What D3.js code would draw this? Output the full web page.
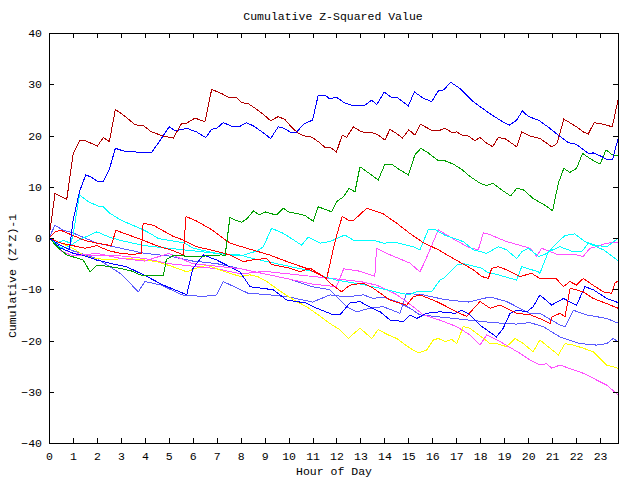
<!DOCTYPE html>
<html><head><meta charset="utf-8">
<script src="https://cdn.jsdelivr.net/npm/d3@7"></script>
<style>
html,body{margin:0;padding:0;background:#fff;}
text{font-family:"Liberation Mono","DejaVu Sans Mono",monospace;font-size:11.5px;fill:#000;}
</style></head>
<body>
<svg id="chart" width="640" height="480"></svg>
<script>
// ---- data: [hour, cumulative value] vertices ----
const xTicks = d3.range(0, 24);
const yTicks = [-40, -30, -20, -10, 0, 10, 20, 30, 40];

const darkRed = [[0,0],[0.25,8.7],[0.74,7.5],[1.01,16.5],[1.29,19.0],[1.5,19],[2.02,17.95],[2.27,19.6],[2.52,18.8],[2.77,25.1],[3.24,23.5],[3.59,22.1],[3.94,21.9],[4.28,20.7],[4.77,19.9],[5.19,19.5],[5.54,22.4],[5.75,22.4],[6.09,23.4],[6.51,22.7],[6.79,29.0],[7.2,28.2],[7.55,27.3],[7.8,27.5],[8.04,26.4],[8.32,26.2],[8.67,25.1],[8.95,24.1],[9.25,22.9],[9.57,23.7],[9.85,23.1],[10.13,21.6],[10.41,20.4],[10.68,19.9],[10.96,19.7],[11.24,18.8],[11.52,17.7],[11.73,17.7],[12.0,16.8],[12.24,20.1],[12.42,19.6],[12.7,21.7],[13.05,20.7],[13.53,20.5],[13.74,20.1],[14.02,19.1],[14.23,21.2],[14.51,20.4],[14.75,19.5],[15.02,21.1],[15.27,20.1],[15.51,22.2],[16.01,20.9],[16.25,20.9],[16.53,21.4],[16.81,20.6],[17.02,20.7],[17.23,20.1],[17.5,19.9],[17.78,19.0],[17.99,19.6],[18.24,18.6],[18.52,17.8],[18.75,19.6],[19.03,19.4],[19.52,17.8],[19.73,20.7],[20.08,19.9],[20.5,19.4],[20.98,17.8],[21.2,18.4],[21.49,23.2],[22.02,21.7],[22.3,20.7],[22.51,20.3],[22.75,22.5],[23.13,22.2],[23.51,21.7],[23.75,26.9]];

const blueTop = [[0,0],[0.5,-1.5],[0.85,-2.3],[1.01,3.5],[1.27,9.0],[1.53,12.3],[1.71,12.0],[2.02,11.1],[2.27,11.1],[2.52,13.4],[2.77,17.5],[3.1,17.0],[3.45,16.8],[4.28,16.7],[4.56,18.5],[5.02,21.7],[5.26,20.9],[5.75,21.4],[6.16,20.7],[6.54,19.6],[6.79,21.2],[7.0,21.4],[7.27,22.5],[7.69,21.7],[7.97,21.8],[8.25,22.5],[8.56,21.8],[8.95,20.5],[9.25,19.4],[9.57,21.7],[9.81,21.4],[10.13,20.5],[10.31,20.5],[10.62,22.2],[11.0,23.0],[11.24,27.9],[11.52,27.9],[11.73,27.1],[11.98,27.5],[12.36,26.3],[12.63,25.9],[13.19,25.9],[13.47,26.9],[13.68,26.0],[13.99,28.5],[14.28,27.5],[14.51,27.5],[15.0,25.8],[15.25,28.5],[15.62,27.3],[15.97,26.6],[16.25,28.7],[16.48,28.9],[16.76,30.4],[17.15,29.2],[17.71,26.6],[18.27,24.7],[18.82,23.0],[19.21,22.0],[19.52,23.0],[19.76,24.8],[20.01,23.7],[20.43,23.0],[20.85,21.6],[21.33,19.8],[21.68,18.6],[22.0,18.3],[22.51,16.5],[22.72,16.6],[23.07,15.9],[23.28,15.3],[23.52,15.3],[23.75,19.3]];

const green = [[0,0],[0.4,-2],[0.74,-3.3],[1.43,-4.3],[1.71,-6.6],[1.99,-5.3],[2.4,-5.5],[2.96,-5.9],[3.5,-6.5],[3.8,-7.2],[4.22,-7.4],[4.77,-7.4],[4.9,-4.2],[5.2,-3.4],[6.0,-3.6],[6.6,-3.5],[7.2,-3.3],[7.35,-3.5],[7.55,4.0],[7.76,3.5],[8.04,3.1],[8.25,3.7],[8.53,5.3],[8.78,4.5],[9.02,5.1],[9.22,4.8],[9.5,4.5],[9.78,5.8],[10.03,5.0],[10.34,4.8],[10.68,4.4],[11.03,3.3],[11.24,6.1],[11.52,5.6],[11.8,5.1],[12.0,7.1],[12.28,8.0],[12.53,9.7],[12.77,9.0],[12.98,13.9],[13.4,12.5],[13.74,11.3],[14.02,14.4],[14.3,14.4],[14.58,13.5],[15.0,12.3],[15.27,16.2],[15.52,17.5],[15.83,16.6],[16.25,15.1],[16.46,15.2],[16.88,14.4],[17.23,13.4],[17.57,12.0],[17.99,10.7],[18.27,10.2],[18.52,10.7],[18.89,9.4],[19.27,8.2],[19.52,9.7],[19.8,9.4],[20.21,7.7],[20.7,6.4],[21.02,5.3],[21.26,10.7],[21.49,13.6],[21.74,12.8],[22.02,13.6],[22.27,16.5],[22.58,15.5],[23.0,14.4],[23.25,17.2],[23.52,16.2],[23.75,16.0]];

const red1 = [[0,0],[0.25,1.2],[0.5,1.5],[1.0,0.5],[1.5,-0.5],[2.0,-1.0],[2.6,-1.5],[2.79,1.5],[3.2,0.8],[3.8,-0.2],[4.5,-1.5],[5.2,-2.5],[5.6,-3.3],[5.72,4.2],[6.16,3.3],[6.8,1.6],[7.55,-1.0],[8.4,-2.2],[9.2,-3.3],[10.1,-4.9],[10.8,-6.0],[11.59,-7.9],[11.86,-2.3],[12.03,0.9],[12.24,4.2],[12.49,3.5],[12.73,3.5],[13.26,5.8],[13.53,5.4],[13.95,4.7],[14.51,2.9],[15.06,0.9],[15.62,-0.9],[16.25,-2.3],[16.88,-4.0],[17.71,-6.2],[18.06,-7.5],[18.34,-7.9],[18.48,-5.9],[18.75,-5.6],[19.1,-6.2],[19.66,-7.5],[20.15,-6.9],[20.49,-7.9],[21.19,-8.0],[21.47,-9.5],[21.74,-8.5],[22.02,-9.2],[22.3,-7.9],[22.58,-8.8],[23.13,-10.5],[23.48,-10.8],[23.62,-8.8],[23.75,-8.4]];

const red2 = [[0,0],[0.5,-1],[1.0,-1.5],[1.5,-2.0],[2.0,-1.5],[2.5,-2.5],[3.0,-3.0],[3.5,-3.2],[3.85,-3.0],[3.93,2.9],[4.35,2.5],[5.19,0.3],[5.61,-0.4],[6.16,-1.7],[7.0,-2.6],[7.55,-3.3],[8.11,-4.6],[8.6,-4.2],[9.09,-4.0],[9.3,-5.2],[10.06,-5.9],[10.48,-6.6],[10.9,-5.9],[11.45,-7.5],[11.73,-8.8],[12.21,-10.5],[12.56,-9.2],[13.12,-8.8],[13.53,-9.8],[14.23,-12.1],[14.93,-13.1],[15.2,-11.5],[15.48,-11.1],[16.18,-12.4],[17.15,-14.7],[17.43,-15.3],[17.99,-12.4],[18.41,-13.7],[18.82,-13.1],[19.52,-14.7],[20.1,-15],[20.63,-16.0],[20.91,-16.7],[21.0,-15.4],[21.33,-14.7],[21.54,-15.4],[21.75,-9.8],[22.3,-10.5],[22.72,-11.8],[23.28,-12.8],[23.75,-13.7]];

const cyan1 = [[0,0],[0.3,-1],[0.6,-0.5],[0.9,-1.0],[1.0,0.5],[1.27,8.4],[1.64,7.1],[2.06,6.2],[2.27,6.1],[2.55,4.8],[2.96,3.6],[3.38,2.7],[3.8,1.9],[4.22,0.9],[4.56,-0.1],[5.19,-0.6],[5.61,-0.9],[6.03,-2.0],[6.3,-2.3],[7.0,-3.0],[7.97,-3.3],[8.5,-4.0],[9.0,-4.5],[10,-5.5],[11,-6.5],[11.45,-7.5],[12,-8.2],[13,-9],[14,-10],[15.0,-11.1],[15.35,-10.5],[15.97,-10.5],[16.32,-8.2],[16.46,-7.9],[17.02,-5.3],[17.29,-5.0],[18.06,-5.9],[18.27,-6.6],[18.75,-7.2],[19.52,-8.2],[19.73,-5.6],[20.43,-6.6],[20.49,-6.9],[20.84,-2.7],[21.33,-1.7],[21.89,-2.7],[22.23,-2.7],[22.51,-1.0],[23.14,-2.3],[23.75,-4.4]];

const cyan2 = [[0,0],[0.3,-1.5],[0.6,-2.0],[0.9,-1.5],[1.2,-0.5],[2.0,1.2],[2.5,0.2],[3,-0.5],[4,-1.5],[5,-2.0],[6,-2.5],[7,-3.0],[8,-3.5],[8.7,-2.5],[8.95,-1.7],[9.29,1.9],[9.78,0.9],[10.55,-1.4],[10.82,0.2],[11.31,-1.0],[11.73,-0.7],[12.35,0.6],[12.7,-0.4],[13.53,-0.4],[13.95,-1.0],[14.5,-0.9],[15.2,-1.7],[15.48,-2.3],[15.83,1.6],[16.1,1.7],[16.5,0.6],[17.29,-0.7],[17.71,-2.3],[18.27,-3.0],[18.75,-1.7],[19.1,-2.3],[19.52,-4.0],[19.73,-2.7],[20.01,-2.0],[20.43,-3.6],[20.8,-3.0],[21.19,-1.0],[21.54,0.5],[21.95,0.8],[22.37,-0.7],[22.79,-1.4],[23.28,-1.7],[23.75,-0.1]];

const magenta1 = [[0,0],[0.5,-2],[1,-3],[2,-3.5],[3,-3.5],[4,-4],[5,-5],[6,-5.5],[7,-6],[8,-7],[9,-6.5],[10,-7],[11,-7.5],[12,-8],[13,-8.5],[13.68,-9.2],[14.5,-11],[15.2,-13.4],[15.62,-15.0],[16.3,-16],[17.02,-17.3],[17.57,-18.9],[17.99,-20.9],[18.27,-18.9],[18.82,-20.2],[19.66,-22.5],[20.07,-23.8],[20.49,-24.8],[20.77,-24.5],[20.98,-25.4],[21.33,-24.8],[22.3,-26.4],[23.28,-28.7],[23.75,-30.6]];

const magenta2 = [[0,0],[0.5,-2.5],[1,-3.5],[2,-3.0],[3,-4],[4,-4.5],[5,-3],[6,-5],[7,-5.5],[8,-6],[9,-7],[10,-8],[11,-9],[12,-9.5],[12.3,-6],[13,-6.5],[13.6,-7.5],[13.67,-2.0],[14.09,-3.0],[15.07,-4.9],[15.48,-6.6],[15.69,-4.6],[16.25,1.6],[16.81,0.0],[17.5,-1.8],[17.92,-2.3],[18.13,1.0],[18.27,0.9],[19.1,-0.7],[20.08,-2.0],[20.36,-3.6],[20.56,-2.0],[21.12,-3.0],[21.26,-3.3],[22.02,-3.3],[22.3,-3.6],[22.58,-2.0],[22.86,-1.7],[23.28,-1.0],[23.75,-0.9]];

const yellow = [[0,0],[0.5,-1],[1,-2],[1.43,-3.3],[1.85,-4.0],[2.5,-4.2],[3.24,-4.0],[4.0,-4.3],[4.49,-4.6],[5.1,-5.5],[5.75,-6.6],[6.2,-5.8],[6.58,-5.3],[7.3,-6.5],[7.97,-7.5],[8.39,-7.2],[8.7,-7.5],[9.09,-8.5],[9.78,-10.8],[10.34,-12.4],[10.75,-13.4],[11.45,-15.7],[11.73,-16.7],[12.14,-17.9],[12.49,-19.6],[12.98,-17.6],[13.47,-19.6],[13.74,-17.9],[14.16,-18.9],[14.51,-19.6],[15.07,-21.5],[15.41,-22.4],[15.76,-21.9],[16.04,-19.9],[16.25,-19.6],[16.53,-20.2],[16.81,-19.8],[17.02,-20.6],[17.29,-17.3],[17.57,-17.6],[18.13,-19.6],[18.41,-20.6],[18.68,-20.6],[19.1,-21.2],[19.45,-19.6],[19.8,-20.6],[20.21,-22.2],[20.49,-19.9],[20.91,-21.5],[21.26,-22.8],[21.54,-20.6],[21.89,-20.9],[22.3,-21.5],[22.72,-22.2],[23.28,-24.8],[23.75,-25.4]];

const blue2 = [[0,0],[0.5,-2],[1.02,-3.0],[1.5,-3.5],[1.99,-4.3],[2.6,-5],[3.24,-5.6],[4.08,-7.5],[4.77,-9.2],[5.2,-10],[5.61,-10.8],[5.75,-11.1],[6.0,-6],[6.44,-3.3],[7.0,-4.3],[7.5,-5.5],[7.97,-6.6],[8.39,-9.5],[9.36,-10.1],[9.92,-12.1],[10.75,-12.7],[11.17,-13.7],[11.87,-15.0],[12.14,-15.0],[12.56,-12.7],[12.98,-12.4],[13.4,-13.5],[13.82,-14.4],[14.23,-16.0],[14.79,-16.3],[15.07,-15.0],[15.35,-15.7],[15.76,-14.7],[16.32,-14.4],[16.95,-14.7],[17.23,-14.1],[17.57,-15.0],[17.99,-17.0],[18.68,-19.3],[18.96,-17.6],[19.24,-14.7],[19.52,-14.1],[19.94,-14.4],[20.21,-13.4],[20.49,-11.1],[20.98,-13.1],[21.47,-11.8],[22.02,-13.1],[22.37,-9.5],[22.72,-10.1],[23.28,-11.8],[23.75,-12.6]];

const lightBlue1 = [[0,0],[0.25,2.5],[0.6,1.5],[1.0,1.0],[1.5,0],[2.0,-1],[2.5,-1.5],[3,-2],[3.5,-2.5],[4,-3],[5,-3.5],[6,-4.5],[7,-5],[8,-6],[9,-7],[10,-8],[11,-9.5],[11.73,-10.1],[12.42,-13.4],[12.84,-14.4],[13.4,-13.7],[13.95,-13.4],[14.65,-14.7],[14.93,-10.8],[15.62,-11.1],[16.5,-12],[17.5,-12.5],[18.41,-11.5],[19.1,-12.4],[20.07,-14.7],[20.49,-14.7],[21.33,-17.0],[21.54,-17.3],[21.89,-14.1],[22.44,-15.0],[23.28,-15.7],[23.75,-16.6]];

const lightBlue2 = [[0,0],[0.5,-1.5],[1,-2.5],[2,-4],[3,-7],[3.73,-10.5],[4.0,-8.5],[4.7,-9.2],[5.54,-11.1],[6.44,-11.4],[7.0,-11.1],[7.27,-8.5],[8.32,-10.8],[9,-11],[10,-11.5],[11,-12.5],[11.73,-11.1],[12.42,-11.5],[13.12,-11.1],[13.54,-11.8],[13.95,-11.5],[14.51,-12.4],[15.07,-13.7],[15.48,-15.0],[16.5,-15.5],[17.5,-16],[18.5,-16.5],[19.5,-16.8],[20.07,-16.5],[20.63,-17.3],[21.33,-19.3],[22.16,-20.6],[22.86,-20.9],[23.28,-20.6],[23.55,-19.6],[23.75,-20.2]];

// draw order and colour of each series
const seriesList = [
  {data: lightBlue2, color: "#5a5aff"},
  {data: lightBlue1, color: "#5a5aff"},
  {data: magenta1, color: "#ff50ff"},
  {data: yellow, color: "#ffff00"},
  {data: blue2, color: "#0000ff"},
  {data: magenta2, color: "#ff50ff"},
  {data: cyan1, color: "#00ffff"},
  {data: cyan2, color: "#00ffff"},
  {data: red2, color: "#ff0000"},
  {data: red1, color: "#ff0000"},
  {data: green, color: "#00a000"},
  {data: blueTop, color: "#0000ff"},
  {data: darkRed, color: "#b00000"}
];

const svg = d3.select("#chart");
const L = 49, R = 618, T = 33, B = 443;
const x = d3.scaleLinear().domain([0, 23.75]).range([L, R]);
const y = d3.scaleLinear().domain([-40, 40]).range([B, T]);

// series lines
const line = d3.line().x(d => x(d[0])).y(d => y(d[1]));
svg.append("g").selectAll("path").data(seriesList).join("path")
  .attr("d", s => line(s.data))
  .attr("fill", "none").attr("stroke", s => s.color).attr("stroke-width", 1)
  .attr("shape-rendering", "crispEdges");

// axes (ticks inward, mirrored)
const tl = 5;
const gB = svg.append("g").attr("transform", `translate(0,${B})`)
  .call(d3.axisBottom(x).tickValues(xTicks).tickSize(-tl).tickPadding(9).tickFormat(d3.format("d")));
const gT = svg.append("g").attr("transform", `translate(0,${T})`)
  .call(d3.axisTop(x).tickValues(xTicks).tickSize(-tl).tickFormat(""));
const gL = svg.append("g").attr("transform", `translate(${L},0)`)
  .call(d3.axisLeft(y).tickValues(yTicks).tickSize(-tl).tickPadding(7).tickFormat(d3.format("d")));
const gR = svg.append("g").attr("transform", `translate(${R},0)`)
  .call(d3.axisRight(y).tickValues(yTicks).tickSize(-tl).tickFormat(""));
[gB, gT, gL, gR].forEach(g => {
  g.select(".domain").remove();
  g.selectAll("line").attr("stroke", "#000").attr("shape-rendering", "crispEdges");
  g.selectAll("text").attr("font-family", null).attr("font-size", null).attr("fill", "#000");
});
svg.append("rect").attr("x", L + 0.5).attr("y", T + 0.5).attr("width", R - L).attr("height", B - T)
  .attr("fill", "none").attr("stroke", "#000").attr("shape-rendering", "crispEdges");

// titles
svg.append("text").attr("x", 333).attr("y", 20).attr("text-anchor", "middle").text("Cumulative Z-Squared Value");
svg.append("text").attr("x", 334).attr("y", 475).attr("text-anchor", "middle").text("Hour of Day");
svg.append("text").attr("transform", "translate(16,276) rotate(-90)").attr("text-anchor", "middle").text("Cumulative (Z*Z)-1");
</script>
</body></html>
